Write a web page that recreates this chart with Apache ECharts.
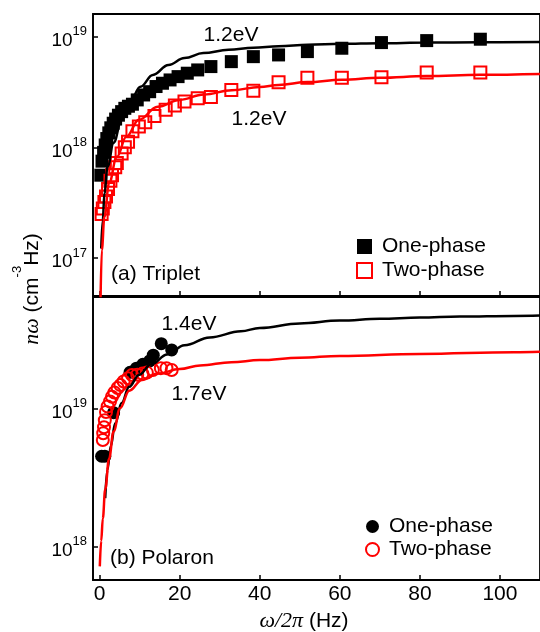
<!DOCTYPE html>
<html><head><meta charset="utf-8">
<script src="https://cdn.jsdelivr.net/npm/echarts@6/dist/echarts.min.js"></script>
<style>html,body{margin:0;padding:0;background:#fff}#c{width:540px;height:632px}</style>
</head><body><div id="c"></div>
<script>
const xTicks = [0, 20, 40, 60, 80, 100];

// (a) Triplet
const tripOneX = [0.3, 0.6, 1.0, 1.4, 1.8, 2.3, 2.8, 3.4, 4.0, 4.7, 5.5, 6.3, 7.2, 8.2, 9.4, 11.0, 12.5, 14.1, 15.7, 17.6, 19.6, 21.9, 24.5, 27.8, 32.9, 38.4, 44.7, 51.9, 60.5, 70.4, 81.7, 95.1];
const tripOneY = [5.6e17, 7.5e17, 9.0e17, 1.05e18, 1.2e18, 1.35e18, 1.5e18, 1.65e18, 1.8e18, 1.95e18, 2.1e18, 2.25e18, 2.35e18, 2.45e18, 2.68e18, 2.97e18, 3.18e18, 3.54e18, 3.79e18, 4.06e18, 4.35e18, 4.67e18, 5.0e18, 5.36e18, 5.94e18, 6.59e18, 6.83e18, 7.32e18, 7.85e18, 8.83e18, 9.2e18, 9.47e18];
const tripTwoX = [0.5, 0.8, 1.2, 1.6, 2.1, 2.7, 3.1, 3.9, 4.3, 5.5, 6.3, 7.1, 8.2, 9.8, 11.4, 13.7, 16.5, 18.8, 21.2, 24.5, 27.8, 32.9, 38.4, 44.7, 51.9, 60.5, 70.4, 81.7, 95.1];
const tripTwoY = [2.5e17, 2.8e17, 3.2e17, 3.6e17, 4.2e17, 5.0e17, 5.6e17, 6.6e17, 7.2e17, 8.8e17, 1.0e18, 1.12e18, 1.4e18, 1.54e18, 1.68e18, 1.92e18, 2.18e18, 2.38e18, 2.59e18, 2.77e18, 2.85e18, 3.3e18, 3.25e18, 3.86e18, 4.24e18, 4.24e18, 4.3e18, 4.73e18, 4.73e18];
const fitTripOneX = [0.4, 0.8, 1.2, 2.0, 3.5, 5.5, 7.8, 10.2, 13.3, 17.2, 21.2, 25.9, 32.2, 38.4, 44.7, 52, 60.5, 70, 81.7, 95, 110];
const fitTripOneY = [1.22e17, 2.2e17, 3.85e17, 6.7e17, 1.1e18, 1.77e18, 2.68e18, 3.53e18, 4.5e18, 5.55e18, 6.4e18, 7.1e18, 7.6e18, 7.95e18, 8.2e18, 8.45e18, 8.6e18, 8.72e18, 8.83e18, 8.88e18, 8.92e18];
const fitTripTwoX = [0.2, 0.55, 1.2, 2.35, 4.3, 6.7, 9.8, 14.5, 20, 26, 33, 40, 44.7, 51.9, 60.5, 70, 81.7, 95, 110];
const fitTripTwoY = [3.5e16, 1.18e17, 2.36e17, 4.73e17, 8.2e17, 1.25e18, 1.77e18, 2.33e18, 2.68e18, 3.0e18, 3.28e18, 3.5e18, 3.65e18, 3.88e18, 4.08e18, 4.25e18, 4.4e18, 4.52e18, 4.6e18];

// (b) Polaron
const polOneX = [0.5, 1.3, 3.5, 7.6, 9.2, 10.8, 12.5, 13.4, 15.4, 18.0];
const polOneY = [4.5e18, 4.5e18, 9.3e18, 1.82e19, 1.95e19, 2.08e19, 2.2e19, 2.42e19, 2.93e19, 2.64e19];
const polTwoX = [0.8, 0.9, 1.1, 1.3, 1.6, 2.0, 2.6, 3.1, 3.7, 4.5, 5.2, 6.0, 7.1, 8.1, 9.4, 10.7, 11.8, 13.3, 15.3, 16.7, 18.0];
const polTwoY = [5.9e18, 6.6e18, 7.3e18, 8.2e18, 9.4e18, 1.03e19, 1.12e19, 1.21e19, 1.3e19, 1.4e19, 1.47e19, 1.56e19, 1.65e19, 1.74e19, 1.75e19, 1.78e19, 1.81e19, 1.89e19, 1.95e19, 1.95e19, 1.89e19];
const fitPolOneX = [1.4, 1.95, 2.75, 3.9, 5.5, 7.4, 9.8, 12.9, 16.9, 21.2, 27.5, 35.3, 40, 50, 60, 70, 80, 90, 103.5, 110];
const fitPolOneY = [2.24e18, 3.58e18, 5.3e18, 7.8e18, 1.09e19, 1.43e19, 1.74e19, 2.08e19, 2.45e19, 2.85e19, 3.25e19, 3.6e19, 3.8e19, 4.1e19, 4.3e19, 4.43e19, 4.52e19, 4.6e19, 4.65e19, 4.68e19];
const fitPolTwoX = [0.05, 0.4, 0.8, 1.4, 2.35, 3.5, 5.1, 7.4, 10.6, 14.5, 20, 25.1, 32.9, 40, 50, 60, 80, 103.5, 110];
const fitPolTwoY = [7.2e17, 1.1e18, 1.6e18, 2.6e18, 4.3e18, 6.8e18, 1.0e19, 1.34e19, 1.6e19, 1.78e19, 1.92e19, 2.04e19, 2.15e19, 2.23e19, 2.32e19, 2.39e19, 2.47e19, 2.54e19, 2.56e19];

const pairs = (xs, ys) => xs.map((x, i) => [x, ys[i]]);
const SANS = '"Liberation Sans", Arial, sans-serif';
const SERIF = '"Liberation Serif", "Times New Roman", serif';

function yLabel(v) {
  const e = Math.log10(v);
  const r = Math.round(e);
  if (Math.abs(e - r) > 0.01) return '';
  return '{b|10}{s|' + r + '}';
}
const yLabelRich = {
  b: { fontSize: 19, lineHeight: 19, padding: [8, 0, 0, 0], fontFamily: SANS, color: '#000' },
  s: { fontSize: 13, lineHeight: 13, padding: [2, 0, 12, 0], fontFamily: SANS, color: '#000' }
};

function xAxisCfg(idx, showLabels) {
  return {
    type: 'value', gridIndex: idx, min: -1.65, max: 110,
    axisLine: { show: true, onZero: false, lineStyle: { color: '#000', width: 1.5 } },
    axisTick: { show: true, inside: true, length: 5, lineStyle: { color: '#000', width: 1.5 }, customValues: xTicks },
    axisLabel: { show: showLabels, customValues: xTicks, margin: 4, fontSize: 21, fontFamily: SANS, color: '#000' },
    splitLine: { show: false }
  };
}
function yAxisCfg(idx, min, max) {
  return {
    type: 'log', logBase: 10, gridIndex: idx, min: min, max: max,
    axisLine: { show: true, onZero: false, lineStyle: { color: '#000', width: 1.5 } },
    axisTick: { show: true, inside: true, length: 5, lineStyle: { color: '#000', width: 1.5 } },
    axisLabel: { show: true, margin: 6, formatter: yLabel, rich: yLabelRich },
    splitLine: { show: false },
    minorTick: { show: false }
  };
}
function scatter(name, idx, xs, ys, symbol, size, filled, color) {
  return {
    type: 'scatter', name: name, xAxisIndex: idx, yAxisIndex: idx,
    data: pairs(xs, ys), symbol: symbol, symbolSize: size, z: 2,
    itemStyle: filled ? { color: color, opacity: 1 } : { color: 'rgba(255,255,255,0)', borderColor: color, borderWidth: 2, opacity: 1 }
  };
}
function fit(name, idx, xs, ys, color) {
  return {
    type: 'line', name: name, xAxisIndex: idx, yAxisIndex: idx,
    data: pairs(xs, ys), showSymbol: false, symbol: 'none', smooth: 0.4, smoothMonotone: 'x',
    lineStyle: { color: color, width: 2.5 }, z: 3, silent: true
  };
}

const chart = echarts.init(document.getElementById('c'), null, { renderer: 'canvas' });
const legendBase = {
  orient: 'vertical', padding: 0, selectedMode: false,
  formatter: n => n.split('|')[0],
  textStyle: { fontSize: 21, fontFamily: SANS, color: '#000', padding: [0, 0, 0, 5] }
};
chart.setOption({
  animation: false,
  backgroundColor: '#fff',
  grid: [
    { left: 93, top: 14, width: 474.5, height: 282, show: true, borderColor: '#000', borderWidth: 1.8, backgroundColor: 'transparent' },
    { left: 93, top: 297, width: 474.5, height: 283, show: true, borderColor: '#000', borderWidth: 1.8, backgroundColor: 'transparent' }
  ],
  xAxis: [xAxisCfg(0, false), xAxisCfg(1, true)],
  yAxis: [yAxisCfg(0, 4.54e16, 1.6e19), yAxisCfg(1, 5.74e17, 6.37e19)],
  legend: [
    Object.assign({}, legendBase, { left: 356, top: 236, itemWidth: 15, itemHeight: 15, itemGap: 3, data: ['One-phase|a', 'Two-phase|a'] }),
    Object.assign({}, legendBase, { left: 365, top: 516, itemWidth: 13, itemHeight: 13, itemGap: 2, data: ['One-phase|b', 'Two-phase|b'] })
  ],
  series: [
    scatter('One-phase|a', 0, tripOneX, tripOneY, 'rect', 13, true, '#000'),
    scatter('Two-phase|a', 0, tripTwoX, tripTwoY, 'rect', 12, false, '#ff0000'),
    fit('fitA1', 0, fitTripOneX, fitTripOneY, '#000'),
    fit('fitA2', 0, fitTripTwoX, fitTripTwoY, '#ff0000'),
    scatter('One-phase|b', 1, polOneX, polOneY, 'circle', 13, true, '#000'),
    scatter('Two-phase|b', 1, polTwoX, polTwoY, 'circle', 12, false, '#ff0000'),
    fit('fitB1', 1, fitPolOneX, fitPolOneY, '#000'),
    fit('fitB2', 1, fitPolTwoX, fitPolTwoY, '#ff0000')
  ],
  graphic: [
    { type: 'text', x: 231, y: 35, style: { text: '1.2eV', fontSize: 21, fontFamily: SANS, fill: '#000', align: 'center', verticalAlign: 'middle' } },
    { type: 'text', x: 259, y: 119, style: { text: '1.2eV', fontSize: 21, fontFamily: SANS, fill: '#000', align: 'center', verticalAlign: 'middle' } },
    { type: 'text', x: 111, y: 274, style: { text: '(a) Triplet', fontSize: 21, fontFamily: SANS, fill: '#000', align: 'left', verticalAlign: 'middle' } },
    { type: 'text', x: 189, y: 324, style: { text: '1.4eV', fontSize: 21, fontFamily: SANS, fill: '#000', align: 'center', verticalAlign: 'middle' } },
    { type: 'text', x: 199, y: 394, style: { text: '1.7eV', fontSize: 21, fontFamily: SANS, fill: '#000', align: 'center', verticalAlign: 'middle' } },
    { type: 'text', x: 110, y: 558, style: { text: '(b) Polaron', fontSize: 21, fontFamily: SANS, fill: '#000', align: 'left', verticalAlign: 'middle' } },
    { type: 'text', x: 304, y: 621, style: {
        text: '{i|ω/2π}{n| (Hz)}', align: 'center', verticalAlign: 'middle',
        rich: {
          i: { fontSize: 22, fontFamily: SERIF, fontStyle: 'italic', fill: '#000', color: '#000' },
          n: { fontSize: 21, fontFamily: SANS, fill: '#000', color: '#000' }
        } } },
    { type: 'text', x: 27, y: 289, rotation: Math.PI / 2, style: {
        text: '{i|nω}{n| (cm}{s|-3}{n|Hz)}', align: 'center', verticalAlign: 'middle',
        rich: {
          i: { fontSize: 22, lineHeight: 21, padding: [11, 0, 0, 0], fontFamily: SERIF, fontStyle: 'italic', fill: '#000', color: '#000' },
          n: { fontSize: 21, lineHeight: 21, padding: [11, 0, 0, 0], fontFamily: SANS, fill: '#000', color: '#000' },
          s: { fontSize: 13, lineHeight: 13, padding: [0, 0, 19, 0], fontFamily: SANS, fill: '#000', color: '#000' }
        } } }
  ]
});
</script>
</body></html>
